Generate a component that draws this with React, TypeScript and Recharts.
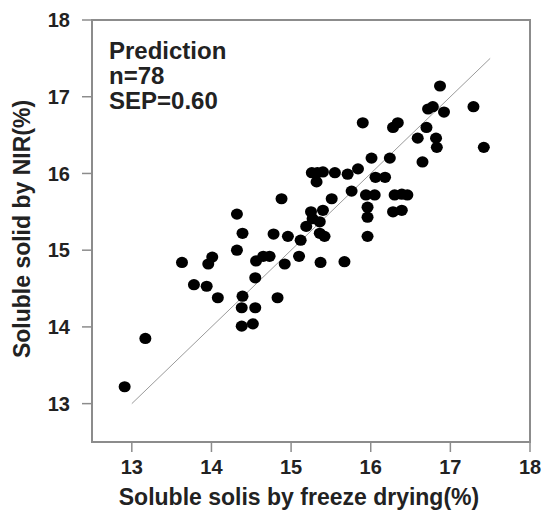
import {
  ScatterChart,
  Scatter,
  XAxis,
  YAxis,
  ReferenceLine,
  ReferenceArea,
} from "recharts";

// soluble solids from freeze drying (x) vs NIR prediction (y)
const freezeDrying = [
  16.87, 16.72, 16.78, 16.92, 17.29, 15.9, 16.28, 16.34, 16.7, 16.59, 16.82, 16.83, 17.42,
  16.24, 16.01, 16.65, 16.18, 16.06, 15.26, 15.33, 15.4, 15.32, 15.55, 15.71, 15.84, 16.3,
  16.39, 16.46, 16.28, 16.39, 14.88, 15.76, 15.51, 15.94, 16.05, 15.96, 15.96, 15.25, 15.4,
  15.27, 15.36, 15.19, 14.78, 14.96, 15.12, 15.36, 15.42, 15.96, 14.56, 14.65, 14.73, 15.1,
  14.92, 15.37, 15.67, 14.55, 14.83, 14.32, 14.39, 14.32, 13.63, 14.01, 13.96, 13.78, 13.94,
  14.08, 14.39, 14.38, 14.55, 14.38, 14.52, 13.17, 12.91,
];
const nirPredicted = [
  17.14, 16.84, 16.87, 16.8, 16.87, 16.66, 16.6, 16.66, 16.6, 16.46, 16.46, 16.34, 16.34,
  16.2, 16.2, 16.15, 15.95, 15.95, 16.01, 16.01, 16.02, 15.89, 16.01, 15.99, 16.06, 15.72,
  15.73, 15.72, 15.5, 15.52, 15.67, 15.77, 15.67, 15.72, 15.72, 15.56, 15.43, 15.5, 15.52,
  15.41, 15.37, 15.31, 15.21, 15.18, 15.13, 15.22, 15.18, 15.18, 14.86, 14.92, 14.92, 14.92,
  14.82, 14.84, 14.85, 14.64, 14.38, 15.47, 15.22, 15.0, 14.84, 14.91, 14.82, 14.55, 14.53,
  14.38, 14.4, 14.25, 14.25, 14.01, 14.04, 13.85, 13.22,
];
const xTicks = [13, 14, 15, 16, 17, 18];
const yTicks = [13, 14, 15, 16, 17, 18];
const fitLine = [
  { x: 13, y: 13 },
  { x: 17.5, y: 17.5 },
];
const statsLines = ["Prediction", "n=78", "SEP=0.60"];

const FONT = "'Liberation Sans', Arial, sans-serif";
const AXIS = "#8c8c8c";
const INK = "#222";

const points = freezeDrying.map((x, i) => ({ x, y: nirPredicted[i] }));

const Dot = (props: any) => (
  <ellipse cx={props.cx} cy={props.cy} rx={6} ry={5.6} fill="#000" />
);

export default function App() {
  const tickStyle = { fill: INK, fontSize: 20, fontWeight: "bold", fontFamily: FONT };
  return (
    <div style={{ position: "absolute", left: 0, top: 0, background: "#fff" }}>
      <ScatterChart
        width={545}
        height={523}
        margin={{ top: 20, right: 15, bottom: 0, left: 0 }}
      >
        <ReferenceArea
          x1={12.5}
          x2={18}
          y1={12.5}
          y2={18}
          fill="none"
          stroke={AXIS}
          strokeWidth={2}
        />
        <XAxis
          type="number"
          dataKey="x"
          domain={[12.5, 18]}
          ticks={xTicks}
          allowDataOverflow
          height={81}
          tickSize={10}
          tickMargin={8}
          axisLine={{ stroke: AXIS, strokeWidth: 2 }}
          tickLine={{ stroke: AXIS, strokeWidth: 1.5 }}
          tick={tickStyle}
        />
        <YAxis
          type="number"
          dataKey="y"
          domain={[12.5, 18]}
          ticks={yTicks}
          allowDataOverflow
          width={92}
          tickSize={10}
          tickMargin={12}
          axisLine={{ stroke: AXIS, strokeWidth: 2 }}
          tickLine={{ stroke: AXIS, strokeWidth: 1.5 }}
          tick={tickStyle}
        />
        <ReferenceLine segment={fitLine} stroke="#9a9a9a" strokeWidth={1} />
        <Scatter data={points} shape={Dot} isAnimationActive={false} />
        <text
          x={299}
          y={505}
          textAnchor="middle"
          fill={INK}
          fontSize={23}
          fontWeight="bold"
          fontFamily={FONT}
        >
          Soluble solis by freeze drying(%)
        </text>
        <text
          transform="rotate(-90)"
          x={-229}
          y={30}
          textAnchor="middle"
          fill={INK}
          fontSize={23}
          fontWeight="bold"
          fontFamily={FONT}
        >
          Soluble solid by NIR(%)
        </text>
        {statsLines.map((s, i) => (
          <text
            key={s}
            x={109}
            y={59 + i * 25}
            fill={INK}
            fontSize={24}
            fontWeight="bold"
            fontFamily={FONT}
          >
            {s}
          </text>
        ))}
      </ScatterChart>
    </div>
  );
}
